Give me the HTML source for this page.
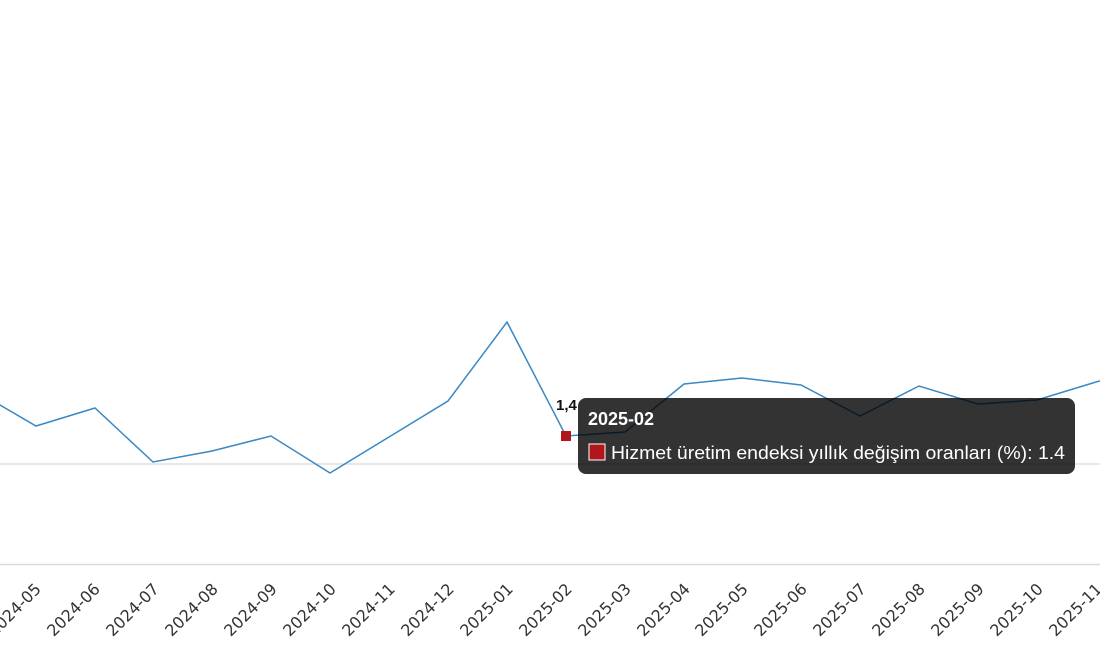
<!DOCTYPE html><html><head><style>body{margin:0;background:#fff;overflow:hidden}</style></head><body>
<svg width="1100" height="650" xmlns="http://www.w3.org/2000/svg" font-family="Liberation Sans, DejaVu Sans, sans-serif">
<line x1="0" y1="464" x2="1100" y2="464" stroke="#e0e0e0" stroke-width="1.5"/>
<line x1="0" y1="564.5" x2="1100" y2="564.5" stroke="#d9d9d9" stroke-width="1.5"/>
<polyline fill="none" stroke="#3a88c4" stroke-width="1.5" points="-23,390 0,405 36,426 95,408 153,462 212,451 271,436 330,473 389,437 448,401 507,322 566,436 625,432 684,384 742,378 801,385 860,416 919,386 978,404 1037,400 1096,382 1110,378"/>
<rect x="561" y="431" width="10" height="10" fill="#b0161b"/>
<text x="556" y="410" font-size="15" font-weight="bold" fill="#111">1,4</text>
<g font-family="DejaVu Sans, sans-serif" font-size="16" fill="#333" text-anchor="end">
<text transform="translate(42,590) rotate(-45)">2024-05</text>
<text transform="translate(101,590) rotate(-45)">2024-06</text>
<text transform="translate(160,590) rotate(-45)">2024-07</text>
<text transform="translate(219,590) rotate(-45)">2024-08</text>
<text transform="translate(278,590) rotate(-45)">2024-09</text>
<text transform="translate(337,590) rotate(-45)">2024-10</text>
<text transform="translate(396,590) rotate(-45)">2024-11</text>
<text transform="translate(455,590) rotate(-45)">2024-12</text>
<text transform="translate(514,590) rotate(-45)">2025-01</text>
<text transform="translate(573,590) rotate(-45)">2025-02</text>
<text transform="translate(632,590) rotate(-45)">2025-03</text>
<text transform="translate(691,590) rotate(-45)">2025-04</text>
<text transform="translate(749,590) rotate(-45)">2025-05</text>
<text transform="translate(808,590) rotate(-45)">2025-06</text>
<text transform="translate(867,590) rotate(-45)">2025-07</text>
<text transform="translate(926,590) rotate(-45)">2025-08</text>
<text transform="translate(985,590) rotate(-45)">2025-09</text>
<text transform="translate(1044,590) rotate(-45)">2025-10</text>
<text transform="translate(1103,590) rotate(-45)">2025-11</text>
</g>
<rect x="578" y="398" width="497" height="76" rx="8" fill="#000" fill-opacity="0.8"/>
<text x="588" y="425" font-size="18" font-weight="bold" fill="#fff">2025-02</text>
<rect x="589" y="444" width="16" height="16" fill="#b0161b" stroke="#fff" stroke-width="1"/>
<text x="611" y="459" font-size="18" fill="#fff" textLength="454" lengthAdjust="spacingAndGlyphs">Hizmet üretim endeksi yıllık değişim oranları (%): 1.4</text>
</svg>
</body></html>
